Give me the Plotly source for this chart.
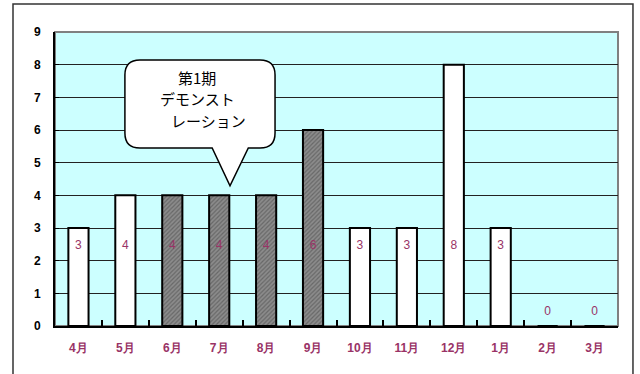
import plotly.graph_objects as go

months = ["4月", "5月", "6月", "7月", "8月", "9月", "10月", "11月", "12月", "1月", "2月", "3月"]
values = [3, 4, 4, 4, 4, 6, 3, 3, 8, 3, 0, 0]
demo = [False, False, True, True, True, True, False, False, False, False, False, False]
callout_lines = ["第1期", "デモンスト", "レーション"]

label_col = "#993366"

fig = go.Figure()
fig.add_trace(go.Bar(
    x=months, y=values, width=0.43,
    marker=dict(
        color=["#8c8c8c" if d else "white" for d in demo],
        line=dict(color="black", width=2),
        pattern=dict(shape=["/" if d else "" for d in demo],
                     fgcolor="#555555", bgcolor="#9a9a9a", size=3, solidity=0.4),
    ),
    hoverinfo="skip", showlegend=False,
))
fig.add_trace(go.Scatter(
    x=months, y=[2.45 if v > 0 else 0.43 for v in values],
    mode="text", text=[str(v) for v in values],
    textfont=dict(color=label_col, size=12, family="Liberation Sans, Arial"),
    showlegend=False, hoverinfo="skip",
))

# callout bubble (data coords; category index positions)
L, R, T, B = 0.99, 4.19, 8.14, 5.45
rx, ry = 0.32, 0.46
p1, p2, tipx, tipy = 2.85, 3.62, 3.23, 4.29
path = (f"M {L+rx},{T} L {R-rx},{T} Q {R},{T} {R},{T-ry} L {R},{B+ry} Q {R},{B} {R-rx},{B} "
        f"L {p2},{B} L {tipx},{tipy} L {p1},{B} L {L+rx},{B} Q {L},{B} {L},{B+ry} "
        f"L {L},{T-ry} Q {L},{T} {L+rx},{T} Z")
shapes = [
    dict(type="rect", xref="paper", yref="paper", x0=0, x1=1, y0=0, y1=1,
         line=dict(color="#808080", width=2), layer="below"),
    dict(type="path", xref="x", yref="y", path=path, fillcolor="white",
         line=dict(color="black", width=1.5), layer="above"),
    dict(type="rect", xref="paper", yref="paper", x0=-0.0746, x1=1.0266, y0=-0.2, y1=1.095,
         line=dict(color="#333333", width=1.5), fillcolor="rgba(0,0,0,0)"),
]

ann_pos = [(2.53, 7.62), (2.53, 6.95), (2.78, 6.28)]
annotations = [dict(x=x, y=y, xref="x", yref="y", text=t, showarrow=False,
                    font=dict(size=15, color="black", family="Noto Sans CJK JP"))
               for t, (x, y) in zip(callout_lines, ann_pos)]

fig.update_layout(
    width=640, height=374,
    margin=dict(l=55, r=22, t=32, b=48),
    plot_bgcolor="#CCFFFF", paper_bgcolor="white",
    shapes=shapes, annotations=annotations,
    xaxis=dict(type="category", range=[-0.5, 11.5], showgrid=False,
               zeroline=False, showline=True, linecolor="black", linewidth=2,
               ticks="inside", tickson="boundaries", ticklen=6, tickwidth=1.5, tickcolor="black",
               tickfont=dict(color=label_col, size=12, family="Liberation Sans, Arial", weight="bold"),
               ticklabelstandoff=10),
    yaxis=dict(range=[0, 9], dtick=1, showgrid=True, gridcolor="#222222", gridwidth=1,
               zeroline=False, showline=True, linecolor="black", linewidth=2,
               ticks="inside", ticklen=4, tickcolor="black",
               tickfont=dict(color="black", size=12, family="Liberation Sans, Arial", weight="bold"),
               ticklabelstandoff=10),
    bargap=0.57,
)
fig.write_html("out.html")
